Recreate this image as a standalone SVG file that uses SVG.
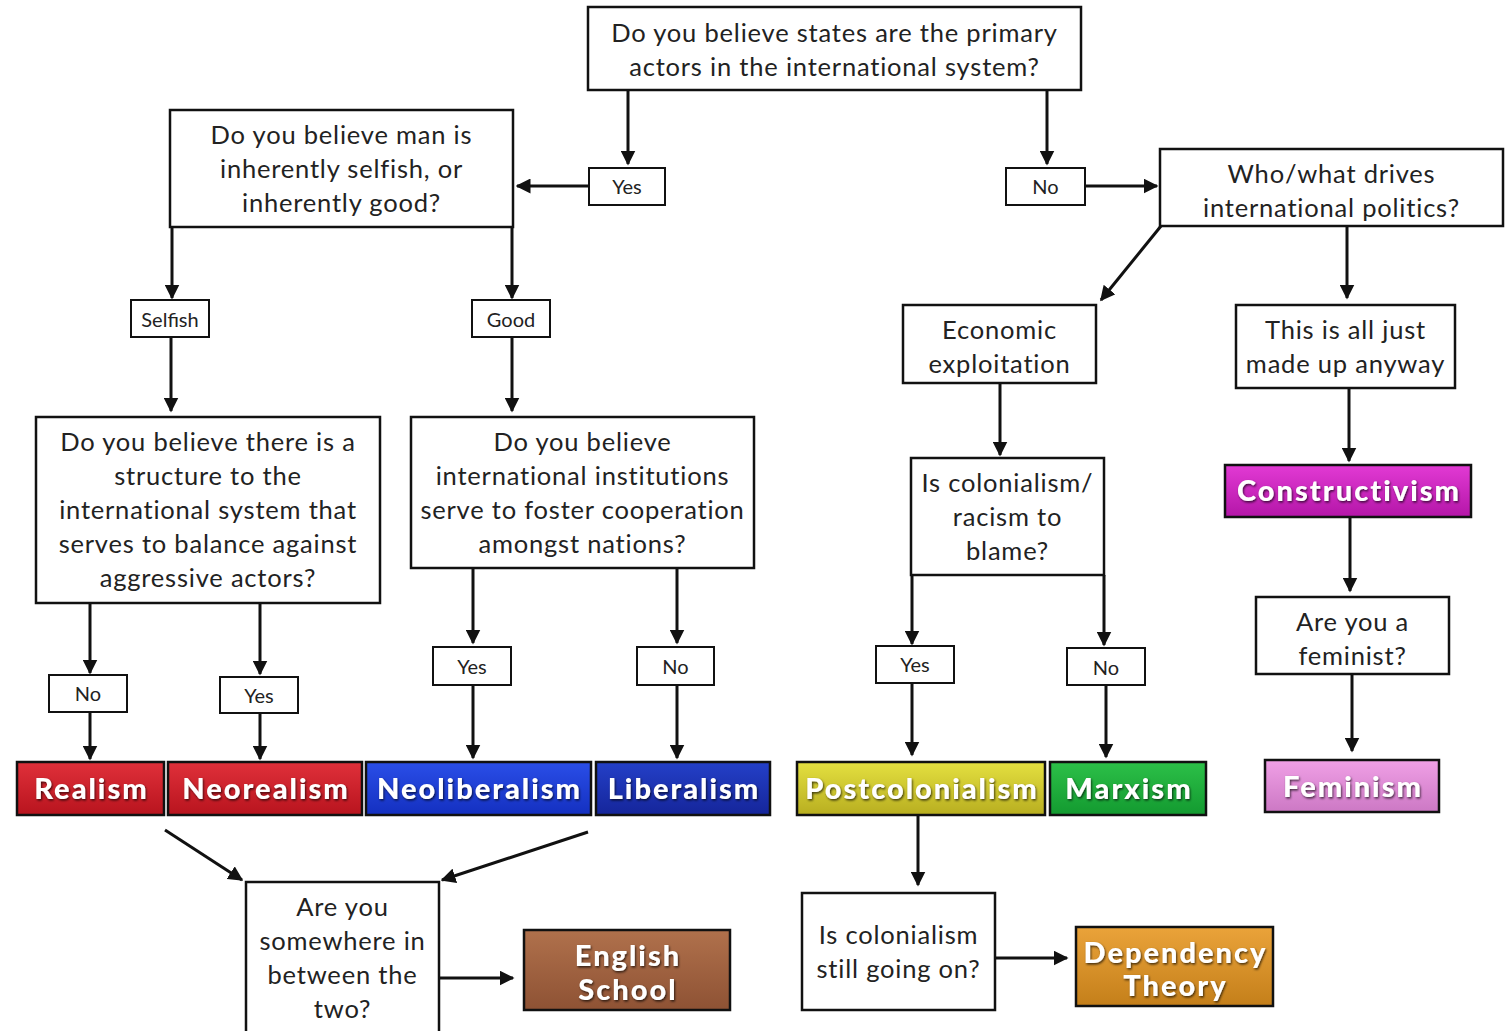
<svg xmlns="http://www.w3.org/2000/svg" width="1512" height="1031" viewBox="0 0 1512 1031">
<style>
.box{fill:#fff;stroke:#111;stroke-width:2.5}
.lbl{fill:#fff;stroke:#111;stroke-width:2}
.q{font-family:Lato,"Open Sans",sans-serif;font-size:25.5px;letter-spacing:0.8px;fill:#222;text-anchor:middle}
.s{font-family:Lato,"Open Sans",sans-serif;font-size:20px;fill:#222;text-anchor:middle}
.t{font-family:Lato,"Open Sans",sans-serif;font-weight:900;font-size:29px;letter-spacing:2px;fill:#fff;text-anchor:middle;filter:url(#sh)}
.tb{stroke:#111;stroke-width:2.5}
.c line,.c path{stroke:#111;stroke-width:3;fill:none;marker-end:url(#ah)}
</style>
<defs>
<marker id="ah" viewBox="0 0 10 10" refX="9" refY="5" markerWidth="5" markerHeight="5" orient="auto" markerUnits="strokeWidth">
<path d="M0,0 L10,5 L0,10 z" fill="#111"/>
</marker>
<filter id="sh" x="-10%" y="-30%" width="120%" height="160%">
<feDropShadow dx="1" dy="1.5" stdDeviation="1.2" flood-color="#000" flood-opacity="0.7"/>
</filter>
<linearGradient id="gRed" x1="0" y1="0" x2="0" y2="1"><stop offset="0" stop-color="#e0303a"/><stop offset="1" stop-color="#b8141e"/></linearGradient>
<linearGradient id="gBlue" x1="0" y1="0" x2="0" y2="1"><stop offset="0" stop-color="#2a4ee8"/><stop offset="1" stop-color="#1430c0"/></linearGradient>
<linearGradient id="gDBlue" x1="0" y1="0" x2="0" y2="1"><stop offset="0" stop-color="#2440c8"/><stop offset="1" stop-color="#15259a"/></linearGradient>
<linearGradient id="gYel" x1="0" y1="0" x2="0" y2="1"><stop offset="0" stop-color="#e4e040"/><stop offset="1" stop-color="#b8ae20"/></linearGradient>
<linearGradient id="gGrn" x1="0" y1="0" x2="0" y2="1"><stop offset="0" stop-color="#2cc048"/><stop offset="1" stop-color="#139a30"/></linearGradient>
<linearGradient id="gMag" x1="0" y1="0" x2="0" y2="1"><stop offset="0" stop-color="#e23ad4"/><stop offset="1" stop-color="#b416a8"/></linearGradient>
<linearGradient id="gPink" x1="0" y1="0" x2="0" y2="1"><stop offset="0" stop-color="#f0a0e6"/><stop offset="1" stop-color="#cc78c4"/></linearGradient>
<linearGradient id="gBrn" x1="0" y1="0" x2="0" y2="1"><stop offset="0" stop-color="#b0714c"/><stop offset="1" stop-color="#8e5234"/></linearGradient>
<linearGradient id="gOr" x1="0" y1="0" x2="0" y2="1"><stop offset="0" stop-color="#eaa33a"/><stop offset="1" stop-color="#c47f1a"/></linearGradient>
</defs>
<rect width="1512" height="1031" fill="#fff"/>

<g class="c" id="connectors">
<line x1="628" y1="90" x2="628" y2="164"/>
<line x1="1047" y1="90" x2="1047" y2="164"/>
<line x1="589" y1="186" x2="517" y2="186"/>
<line x1="1085" y1="186" x2="1157" y2="186"/>
<line x1="172" y1="227" x2="172" y2="298"/>
<line x1="512" y1="227" x2="512" y2="298"/>
<line x1="171" y1="337" x2="171" y2="411"/>
<line x1="512" y1="337" x2="512" y2="411"/>
<line x1="90" y1="603" x2="90" y2="673"/>
<line x1="260" y1="603" x2="260" y2="674"/>
<line x1="90" y1="712" x2="90" y2="759"/>
<line x1="260" y1="713" x2="260" y2="759"/>
<line x1="473" y1="568" x2="473" y2="643"/>
<line x1="677" y1="568" x2="677" y2="643"/>
<line x1="473" y1="685" x2="473" y2="758"/>
<line x1="677" y1="685" x2="677" y2="758"/>
<line x1="165" y1="830" x2="242" y2="880"/>
<line x1="588" y1="832" x2="442" y2="880"/>
<line x1="439" y1="978" x2="513" y2="978"/>
<line x1="918" y1="815" x2="918" y2="885"/>
<line x1="995" y1="958" x2="1067" y2="958"/>
<line x1="1161" y1="226" x2="1101" y2="300"/>
<line x1="1347" y1="226" x2="1347" y2="298"/>
<line x1="1000" y1="383" x2="1000" y2="455"/>
<line x1="912" y1="575" x2="912" y2="644"/>
<line x1="1104" y1="575" x2="1104" y2="645"/>
<line x1="912" y1="683" x2="912" y2="755"/>
<line x1="1106" y1="685" x2="1106" y2="757"/>
<line x1="1349" y1="388" x2="1349" y2="461"/>
<line x1="1350" y1="517" x2="1350" y2="591"/>
<line x1="1352" y1="674" x2="1352" y2="751"/>
</g>

<g id="q-states"><rect class="box" x="588" y="7" width="493" height="83"/>
<text class="q" x="834.5" y="42">Do you believe states are the primary</text>
<text class="q" x="834.5" y="76">actors in the international system?</text></g>

<g id="yes-top"><rect class="lbl" x="589" y="168" width="76" height="37"/><text class="s" x="627" y="194">Yes</text></g>
<g id="no-top"><rect class="lbl" x="1006" y="168" width="79" height="37"/><text class="s" x="1045.5" y="194">No</text></g>

<g id="q-man"><rect class="box" x="170" y="110" width="343" height="117"/>
<text class="q" x="341.5" y="144">Do you believe man is</text>
<text class="q" x="341.5" y="178">inherently selfish, or</text>
<text class="q" x="341.5" y="212">inherently good?</text></g>

<g id="selfish"><rect class="lbl" x="131" y="300" width="78" height="37"/><text class="s" x="170" y="327">Selfish</text></g>
<g id="good"><rect class="lbl" x="472" y="300" width="78" height="37"/><text class="s" x="511" y="327">Good</text></g>

<g id="q-structure"><rect class="box" x="36" y="417" width="344" height="186"/>
<text class="q" x="208" y="451">Do you believe there is a</text>
<text class="q" x="208" y="485">structure to the</text>
<text class="q" x="208" y="519">international system that</text>
<text class="q" x="208" y="553">serves to balance against</text>
<text class="q" x="208" y="587">aggressive actors?</text></g>

<g id="q-institutions"><rect class="box" x="411" y="417" width="343" height="151"/>
<text class="q" x="582.5" y="451">Do you believe</text>
<text class="q" x="582.5" y="485">international institutions</text>
<text class="q" x="582.5" y="519">serve to foster cooperation</text>
<text class="q" x="582.5" y="553">amongst nations?</text></g>

<g id="no-struct"><rect class="lbl" x="49" y="675" width="78" height="37"/><text class="s" x="88" y="701">No</text></g>
<g id="yes-struct"><rect class="lbl" x="220" y="677" width="78" height="36"/><text class="s" x="259" y="703">Yes</text></g>
<g id="yes-inst"><rect class="lbl" x="433" y="647" width="78" height="38"/><text class="s" x="472" y="674">Yes</text></g>
<g id="no-inst"><rect class="lbl" x="637" y="647" width="77" height="38"/><text class="s" x="675.5" y="674">No</text></g>

<g id="realism"><rect class="tb" x="17" y="762" width="147" height="53" fill="url(#gRed)"/><text class="t" x="91.5" y="799">Realism</text></g>
<g id="neorealism"><rect class="tb" x="168" y="762" width="194" height="53" fill="url(#gRed)"/><text class="t" x="266" y="799">Neorealism</text></g>
<g id="neoliberalism"><rect class="tb" x="366" y="762" width="225" height="53" fill="url(#gBlue)"/><text class="t" x="479.5" y="799">Neoliberalism</text></g>
<g id="liberalism"><rect class="tb" x="596" y="762" width="174" height="53" fill="url(#gDBlue)"/><text class="t" x="684" y="799">Liberalism</text></g>
<g id="postcolonialism"><rect class="tb" x="797" y="762" width="248" height="53" fill="url(#gYel)"/><text class="t" x="922" y="799">Postcolonialism</text></g>
<g id="marxism"><rect class="tb" x="1050" y="762" width="156" height="53" fill="url(#gGrn)"/><text class="t" x="1129" y="799">Marxism</text></g>

<g id="q-between"><rect class="box" x="246" y="882" width="193" height="160"/>
<text class="q" x="342.5" y="916">Are you</text>
<text class="q" x="342.5" y="950">somewhere in</text>
<text class="q" x="342.5" y="984">between the</text>
<text class="q" x="342.5" y="1018">two?</text></g>

<g id="english-school"><rect class="tb" x="524" y="930" width="206" height="80" fill="url(#gBrn)"/>
<text class="t" x="628" y="966">English</text><text class="t" x="628" y="1000">School</text></g>

<g id="q-still"><rect class="box" x="802" y="893" width="193" height="117"/>
<text class="q" x="898.5" y="944">Is colonialism</text>
<text class="q" x="898.5" y="978">still going on?</text></g>

<g id="dependency"><rect class="tb" x="1076" y="927" width="197" height="79" fill="url(#gOr)"/>
<text class="t" x="1175.5" y="963">Dependency</text><text class="t" x="1175.5" y="996">Theory</text></g>

<g id="q-drives"><rect class="box" x="1160" y="149" width="343" height="77"/>
<text class="q" x="1331.5" y="183">Who/what drives</text>
<text class="q" x="1331.5" y="217">international politics?</text></g>

<g id="economic"><rect class="box" x="903" y="305" width="193" height="78"/>
<text class="q" x="999.5" y="339">Economic</text>
<text class="q" x="999.5" y="373">exploitation</text></g>

<g id="madeup"><rect class="box" x="1236" y="305" width="219" height="83"/>
<text class="q" x="1345.5" y="339">This is all just</text>
<text class="q" x="1345.5" y="373">made up anyway</text></g>

<g id="q-colonialism"><rect class="box" x="911" y="458" width="193" height="117"/>
<text class="q" x="1007.5" y="492">Is colonialism/</text>
<text class="q" x="1007.5" y="526">racism to</text>
<text class="q" x="1007.5" y="560">blame?</text></g>

<g id="yes-col"><rect class="lbl" x="876" y="646" width="78" height="37"/><text class="s" x="915" y="672">Yes</text></g>
<g id="no-col"><rect class="lbl" x="1067" y="648" width="78" height="37"/><text class="s" x="1106" y="675">No</text></g>

<g id="constructivism"><rect class="tb" x="1225" y="465" width="246" height="52" fill="url(#gMag)"/><text class="t" x="1349" y="501">Constructivism</text></g>

<g id="q-feminist"><rect class="box" x="1256" y="597" width="193" height="77"/>
<text class="q" x="1352.5" y="631">Are you a</text>
<text class="q" x="1352.5" y="665">feminist?</text></g>

<g id="feminism"><rect class="tb" x="1265" y="760" width="174" height="52" fill="url(#gPink)"/><text class="t" x="1353" y="797">Feminism</text></g>
</svg>
